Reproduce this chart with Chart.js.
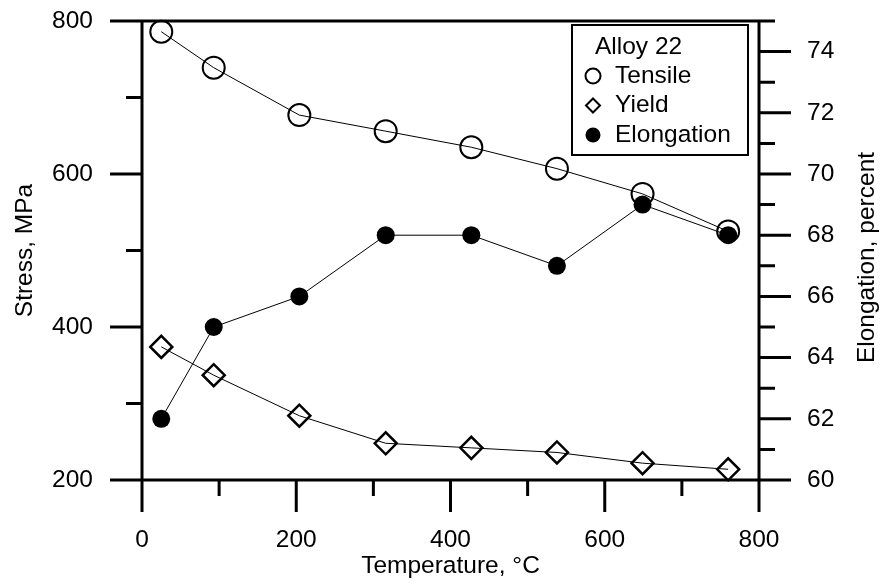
<!DOCTYPE html>
<html>
<head>
<meta charset="utf-8">
<script src="https://cdn.jsdelivr.net/npm/chart.js@4.4.1/dist/chart.umd.min.js"></script>
<style>
  html, body { margin: 0; padding: 0; background: #fff; }
  canvas { display: block; }
</style>
</head>
<body>
<canvas id="grafico" width="881" height="585"></canvas>
<script>
// Alloy 22: tensile / yield stress (MPa) and elongation (%) vs temperature (C)
const temperaturas = [25, 93, 204, 316, 427, 538, 649, 760];
const tensile = [786, 739, 677, 656, 635, 607, 574, 525];
const yieldStress = [374, 337, 284, 248, 242, 236, 222, 214];
const elongation = [62, 65, 66, 68, 68, 67, 69, 68];

// labelled ticks (the others get a short unlabelled tick)
const tempLabels = [0, 200, 400, 600, 800];
const stressLabels = [200, 400, 600, 800];
const elongLabels = [60, 62, 64, 66, 68, 70, 72, 74];

const fuente = "'Liberation Sans', Arial, sans-serif";
const tamano = 24.5;

function puntos(valores) {
  return temperaturas.map((t, i) => ({ x: t, y: valores[i] }));
}

// ancho fijo de los ejes, sin el relleno extra que pone Chart.js
function fijarAncho(ancho) {
  return s => {
    s.width = ancho;
    s.paddingTop = 0;
    s.paddingBottom = 0;
  };
}

// ejes, marco y marcas (largas con etiqueta, cortas sin ella)
const ejes = {
  id: "ejes",
  beforeDatasetsDraw(chart) {
    const { ctx, chartArea: a, scales } = chart;
    ctx.save();
    ctx.strokeStyle = "#000";
    ctx.lineWidth = 3;
    ctx.beginPath();
    ctx.rect(a.left, a.top, a.right - a.left, a.bottom - a.top);

    scales.x.ticks.forEach(t => {
      const px = scales.x.getPixelForValue(t.value);
      const largo = t.label !== "" ? 32 : 16;
      ctx.moveTo(px, a.bottom);
      ctx.lineTo(px, a.bottom + largo);
    });
    scales.y.ticks.forEach(t => {
      const py = scales.y.getPixelForValue(t.value);
      const largo = t.label !== "" ? 32 : 16;
      ctx.moveTo(a.left, py);
      ctx.lineTo(a.left - largo, py);
    });
    scales.y2.ticks.forEach(t => {
      const py = scales.y2.getPixelForValue(t.value);
      const largo = t.label !== "" ? 32 : 16;
      ctx.moveTo(a.right, py);
      ctx.lineTo(a.right + largo, py);
    });
    ctx.stroke();
    ctx.restore();
  }
};

// titulos de ejes y leyenda con recuadro
const textos = {
  id: "textos",
  afterDraw(chart) {
    const { ctx, chartArea: a } = chart;
    const midY = (a.top + a.bottom) / 2;
    ctx.save();
    ctx.fillStyle = "#000";
    ctx.font = `${tamano}px ${fuente}`;
    ctx.textAlign = "center";
    ctx.textBaseline = "middle";

    ctx.fillText("Temperature, \u00B0C", (a.left + a.right) / 2, a.bottom + 86);

    ctx.save();
    ctx.translate(a.left - 117, midY);
    ctx.rotate(-Math.PI / 2);
    ctx.fillText("Stress, MPa", 0, 0);
    ctx.restore();

    ctx.save();
    ctx.translate(a.right + 108, midY + 7);
    ctx.rotate(-Math.PI / 2);
    ctx.fillText("Elongation, percent", 0, 0);
    ctx.restore();

    // leyenda
    const w = 176, h = 130;
    const x0 = a.right - 11 - w, y0 = a.top + 4;
    ctx.fillStyle = "#fff";
    ctx.fillRect(x0, y0, w, h);
    ctx.strokeStyle = "#000";
    ctx.lineWidth = 2;
    ctx.strokeRect(x0, y0, w, h);

    ctx.fillStyle = "#000";
    ctx.textAlign = "left";
    ctx.fillText("Alloy 22", x0 + 23, y0 + 22);

    chart.data.datasets.forEach((ds, i) => {
      const cy = y0 + 51 + i * 29.5;
      const cx = x0 + 21;
      ctx.beginPath();
      if (ds.pointStyle === "rectRot") {
        ctx.moveTo(cx, cy - 7);
        ctx.lineTo(cx + 7, cy);
        ctx.lineTo(cx, cy + 7);
        ctx.lineTo(cx - 7, cy);
        ctx.closePath();
      } else {
        ctx.arc(cx, cy, 7.5, 0, Math.PI * 2);
      }
      if (ds.pointBackgroundColor === "#000") {
        ctx.fill();
      } else {
        ctx.lineWidth = 2;
        ctx.stroke();
      }
      ctx.fillText(ds.label, x0 + 43, cy);
    });
    ctx.restore();
  }
};

const ctx = document.getElementById("grafico").getContext("2d");

new Chart(ctx, {
  type: "line",
  data: {
    datasets: [
      {
        label: "Tensile",
        data: puntos(tensile),
        yAxisID: "y",
        borderColor: "#000",
        borderWidth: 1,
        pointStyle: "circle",
        pointRadius: 11,
        pointBorderWidth: 2,
        pointBorderColor: "#000",
        pointBackgroundColor: "rgba(0,0,0,0)",
        order: 1
      },
      {
        label: "Yield",
        data: puntos(yieldStress),
        yAxisID: "y",
        borderColor: "#000",
        borderWidth: 1,
        pointStyle: "rectRot",
        pointRadius: 11,
        pointBorderWidth: 2.5,
        pointBorderColor: "#000",
        pointBackgroundColor: "rgba(0,0,0,0)",
        order: 1
      },
      {
        label: "Elongation",
        data: puntos(elongation),
        yAxisID: "y2",
        borderColor: "#000",
        borderWidth: 1,
        pointStyle: "circle",
        pointRadius: 9,
        pointBorderWidth: 0,
        pointBackgroundColor: "#000",
        order: 0
      }
    ]
  },
  options: {
    responsive: false,
    animation: false,
    devicePixelRatio: 1,
    clip: false,
    layout: { autoPadding: false, padding: { top: 21, left: 0, right: 0, bottom: 0 } },
    plugins: {
      legend: { display: false },
      tooltip: { enabled: false }
    },
    elements: { line: { tension: 0 } },
    scales: {
      x: {
        type: "linear",
        position: "bottom",
        min: 0,
        max: 800,
        grid: { display: false, drawTicks: false },
        border: { display: false },
        afterFit: s => {
          s.height = 105;
          s.paddingLeft = 0;
          s.paddingRight = 0;
        },
        ticks: {
          stepSize: 100,
          autoSkip: false,
          maxRotation: 0,
          padding: 46,
          color: "#000",
          font: { family: fuente, size: tamano },
          callback: v => tempLabels.includes(v) ? String(v) : ""
        }
      },
      y: {
        type: "linear",
        position: "left",
        min: 200,
        max: 800,
        grid: { display: false, drawTicks: false },
        border: { display: false },
        afterFit: fijarAncho(142),
        ticks: {
          stepSize: 100,
          autoSkip: false,
          padding: 49,
          color: "#000",
          font: { family: fuente, size: tamano },
          callback: v => stressLabels.includes(v) ? String(v) : ""
        }
      },
      y2: {
        type: "linear",
        position: "right",
        min: 60,
        max: 75,
        grid: { display: false, drawTicks: false },
        border: { display: false },
        afterFit: fijarAncho(122),
        ticks: {
          stepSize: 1,
          autoSkip: false,
          padding: 48,
          color: "#000",
          font: { family: fuente, size: tamano },
          callback: v => elongLabels.includes(v) ? String(v) : ""
        }
      }
    }
  },
  plugins: [ejes, textos]
});
</script>
</body>
</html>
